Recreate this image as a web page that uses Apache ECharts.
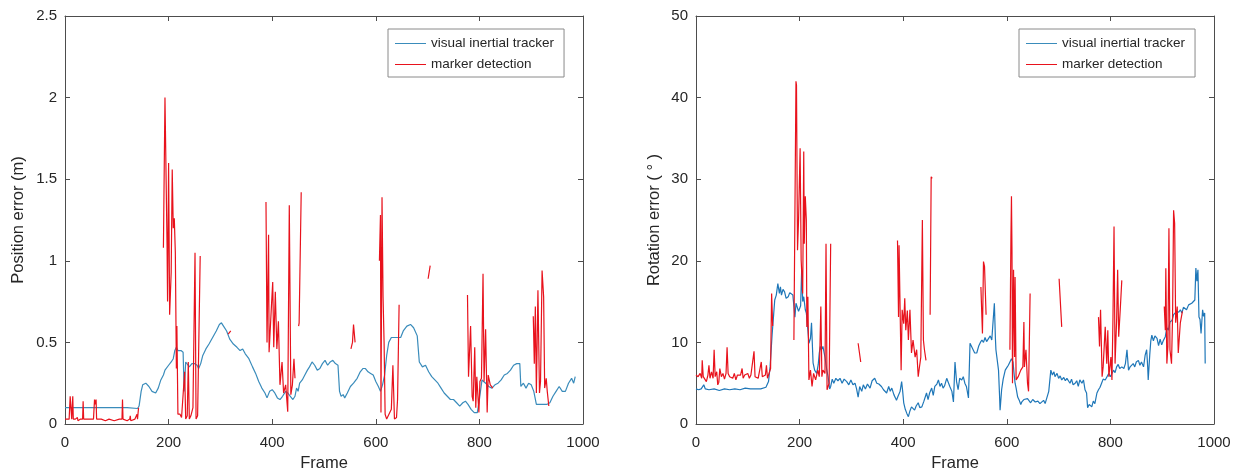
<!DOCTYPE html>
<html>
<head>
<meta charset="utf-8">
<script src="https://cdn.jsdelivr.net/npm/echarts@6/dist/echarts.min.js"></script>
<style>
html,body{margin:0;padding:0;background:#fff;}
#chart{width:1237px;height:474px;}
</style>
</head>
<body>
<div id="chart"></div>
<script>
// ---------- DATA ----------
const seriesNames = ['visual inertial tracker', 'marker detection'];
const xTicks = [0, 200, 400, 600, 800, 1000];
const posTicks = [0, 0.5, 1, 1.5, 2, 2.5];
const rotTicks = [0, 10, 20, 30, 40, 50];

// Position error: visual inertial tracker
const posTrackerFrames = [0,20,40,60,80,100,120,140,143,147,150,156,162,168,175,180,185,190,193,196,200,205,209,212,215,218,224,228,230,233,236,240,245,250,255,258,262,266,272,278,285,292,298,302,306,312,318,325,332,338,343,348,355,362,368,374,380,386,390,395,400,405,410,415,420,426,430,435,440,444,447,450,453,458,463,468,472,477,482,487,492,497,502,507,512,517,522,527,530,533,537,540,545,551,557,564,570,575,580,585,590,595,600,605,609,613,617,621,625,630,640,648,653,660,667,673,680,684,690,696,702,708,714,720,726,732,738,744,750,756,762,768,773,778,784,790,796,800,805,812,818,824,830,836,842,848,854,860,866,872,878,880,885,890,895,900,905,910,920,930,936,942,948,954,960,966,972,978,982,985];
const posTrackerValues = [0.10,0.10,0.10,0.10,0.10,0.10,0.10,0.095,0.11,0.2,0.24,0.25,0.23,0.2,0.19,0.22,0.27,0.3,0.33,0.32,0.36,0.38,0.4,0.45,0.47,0.45,0.45,0.44,0.2,0.38,0.37,0.35,0.37,0.37,0.36,0.34,0.37,0.42,0.46,0.49,0.53,0.57,0.61,0.62,0.6,0.57,0.52,0.49,0.47,0.45,0.46,0.43,0.4,0.35,0.31,0.26,0.22,0.19,0.16,0.2,0.21,0.19,0.16,0.15,0.17,0.2,0.19,0.17,0.15,0.17,0.22,0.2,0.25,0.27,0.3,0.33,0.35,0.38,0.36,0.33,0.34,0.37,0.39,0.36,0.38,0.39,0.37,0.36,0.2,0.17,0.18,0.16,0.19,0.23,0.25,0.28,0.32,0.34,0.34,0.32,0.31,0.3,0.26,0.23,0.2,0.24,0.3,0.42,0.5,0.53,0.53,0.53,0.57,0.6,0.61,0.59,0.54,0.38,0.35,0.36,0.32,0.29,0.27,0.25,0.22,0.19,0.17,0.15,0.15,0.13,0.11,0.13,0.14,0.12,0.09,0.07,0.07,0.15,0.27,0.25,0.23,0.22,0.24,0.25,0.27,0.3,0.31,0.33,0.36,0.37,0.37,0.23,0.25,0.22,0.25,0.24,0.2,0.12,0.12,0.12,0.13,0.17,0.2,0.23,0.2,0.2,0.25,0.28,0.25,0.29];

// Position error: marker detection (null = no detection)
const posMarkerFrames = [0,8,10,12,13,15,16,20,24,25,30,34,35,36,45,55,57,58,60,61,70,78,85,95,105,110,111,112,120,125,126,127,135,138,139,140,142,143,
190,193,195,197,198,200,202,205,207,209,211,213,215,216,218,222,225,227,231,233,236,238,240,243,245,247,251,253,256,258,261,263,
315,320,322,
388,390,393,394,398,401,403,406,409,412,415,419,422,426,430,433,436,439,442,444,446,451,452,456,458,
552,555,557,560,562,
607,609,610,612,614,616,618,621,624,627,630,633,636,640,642,645,647,
701,705,707,
777,779,783,786,788,791,793,795,799,801,804,807,809,812,815,817,821,826,828,
904,906,908,910,913,916,918,921,924,926,929,931,934];
const posMarkerValues = [0.03,0.03,0.17,0.17,0.03,0.17,0.03,0.03,0.04,0.02,0.03,0.03,0.14,0.03,0.03,0.03,0.15,0.12,0.15,0.03,0.03,0.02,0.03,0.02,0.03,0.03,0.15,0.03,0.02,0.03,0.05,0.02,0.03,0.03,0.06,0.03,0.1,null,
1.08,2.0,2.0,1.1,0.75,1.6,0.67,0.93,1.56,1.2,1.26,1.05,0.34,0.6,0.06,0.06,0.04,0.035,0.32,0.03,0.05,0.38,0.03,0.05,0.04,0.1,1.05,0.03,0.05,0.06,1.03,null,
0.55,0.57,null,
1.36,0.5,1.16,0.44,0.69,0.87,0.47,0.81,0.46,0.63,0.24,0.38,0.19,0.24,0.075,1.34,0.18,0.24,0.4,0.28,null,0.6,0.62,1.42,null,
0.46,0.5,0.61,0.5,null,
1.0,1.28,0.07,1.39,0.78,0.5,0.06,0.03,0.05,0.06,0.09,0.36,0.03,0.04,0.15,0.73,null,
0.89,0.97,null,
0.79,0.29,0.6,0.17,0.14,0.47,0.1,0.29,0.07,0.26,0.28,0.92,0.26,0.58,0.07,0.3,0.24,0.22,null,
0.66,0.37,0.72,0.19,0.82,0.19,0.26,0.94,0.78,0.22,0.28,0.2,0.11];

// Rotation error: visual inertial tracker
const rotTrackerFrames = [0,5,10,15,18,25,35,45,55,65,75,85,95,105,115,125,135,140,143,147,150,152,155,158,161,163,165,168,171,174,178,181,184,187,189,191,193,195,198,200,202,204,206,208,211,213,216,218,221,223,226,229,233,236,238,240,242,245,249,252,255,258,260,263,266,270,274,278,282,286,291,295,299,303,307,310,313,316,320,323,327,331,336,340,345,349,353,358,362,365,368,372,375,378,382,385,387,390,394,397,399,401,404,407,410,413,416,419,422,425,429,432,436,440,445,448,451,455,458,461,465,468,471,474,477,480,484,487,490,494,497,500,503,506,509,513,516,519,522,526,529,532,535,538,542,546,549,552,555,558,561,564,568,571,574,576,578,579,581,584,586,587,588,590,593,597,600,603,606,609,612,614,616,618,621,624,627,629,633,636,640,642,646,650,655,660,664,667,671,674,677,681,685,688,691,693,697,700,703,706,710,713,716,719,722,725,728,732,735,738,741,745,748,751,754,756,759,762,764,767,770,774,777,780,783,786,790,793,797,800,803,806,809,812,815,818,822,826,829,832,835,838,841,844,847,850,854,857,860,864,867,870,872,873,876,878,880,883,886,890,893,896,899,902,906,909,912,915,919,922,925,928,932,935,938,941,944,947,951,954,957,960,963,965,967,969,971,973,975,978,980,982,983];
const rotTrackerValues = [4.3,4.2,4.3,4.8,4.3,4.2,4.3,4.1,4.3,4.2,4.3,4.2,4.4,4.3,4.3,4.3,4.5,5.2,7,11,13.5,15.2,15.8,17.2,16,16.8,15.8,16.5,16.2,15.4,15.6,16.1,16,15.8,15.8,13.1,14.8,14.4,13.8,13.6,14.5,18.9,15,15.6,14,13.6,11.5,9.9,10.5,12.4,7.5,6.6,6.2,7.3,8.7,9.5,9.1,9.5,8.2,6.8,5.8,4.3,4.6,5.5,5.0,5.6,5.3,5.6,5.0,5.5,5.2,4.8,5.4,4.8,5.0,4.3,3.3,4.6,4.0,4.8,4.3,4.9,4.4,5.3,5.6,5.0,4.9,4.6,4.2,4.4,3.8,4.6,4.0,4.4,3.6,3.2,2.9,3.4,4.0,5.2,4.0,2.6,1.8,1.3,0.9,1.6,2.1,2.3,1.7,2.2,2.6,2.0,2.1,2.8,3.8,3.0,3.8,4.4,3.5,4.6,4.9,5.4,4.6,5.0,4.4,4.7,5.6,5.4,4.6,4.0,2.7,7.6,5.2,4.2,5.6,5.4,5.8,5.0,4.6,3.2,9.9,9.8,9.1,8.7,8.7,9.6,10.0,10.3,10.0,10.6,10.1,10.3,10.8,10.3,10.5,14.8,10.5,9.1,9.3,6.6,3.5,1.7,2.5,4.2,5.5,6.6,6.9,7.2,7.4,8.0,7.6,6.2,5.0,4.4,3.3,2.9,2.4,2.7,3.0,2.8,3.1,2.9,2.6,3.0,2.7,2.8,2.5,2.6,2.9,2.5,2.7,4.0,6.6,6.0,6.4,5.8,6.2,5.6,5.9,5.4,5.7,5.3,5.6,5.4,5.0,5.5,4.8,5.0,5.3,4.6,5.4,5.0,5.4,4.2,3.8,2.0,2.4,2.2,2.1,2.8,2.5,3.8,4.2,4.5,5.0,5.5,5.4,5.4,6.2,5.8,6.2,6.6,6.3,7.0,7.3,6.8,7.0,6.8,7.4,9.1,6.6,7.0,6.8,7.4,7.0,7.6,7.8,7.2,7.6,7.0,8.4,9.1,7.0,5.4,8.5,10.2,10.9,10.2,10.8,10.5,9.6,10.4,9.7,10.2,10.7,11.8,11.5,12.5,12.7,13.4,13.6,13.8,13.7,14.0,13.6,14.3,14.2,14.0,14.6,14.4,14.8,15.0,15.2,19.1,17.5,18.9,13.1,12.8,11.1,14,13.2,13.6,7.4];

// Rotation error: marker detection (null = no detection)
const rotMarkerFrames = [0,4,8,11,12,14,17,20,23,25,27,30,33,35,37,40,42,44,46,49,52,55,58,60,62,65,68,71,74,77,80,83,86,89,91,94,97,100,103,106,109,112,114,117,120,123,126,128,131,134,136,138,141,144,146,148,149,
189,193,194,196,198,201,203,206,208,209,211,213,214,216,218,221,224,227,231,235,238,241,243,245,249,251,253,257,260,262,
313,318,320,
389,391,392,396,398,401,403,405,408,410,413,416,419,423,426,429,431,434,437,439,441,444,446,452,454,456,458,
550,553,555,557,560,562,
606,608,609,610,611,613,615,616,618,622,627,631,633,634,637,640,642,645,647,
701,706,708,
777,779,781,784,786,790,793,795,797,801,803,805,807,809,812,814,816,819,822,824,
904,906,907,909,911,913,915,918,920,922,924,926,929,931,935,939];
const rotMarkerValues = [6.0,5.8,6.2,5.6,7.8,5.8,6.0,5.2,6.0,7.2,5.6,6.4,5.6,9.1,5.8,6.4,4.8,5.1,6.8,5.8,6.2,5.5,6.2,9.4,6.2,5.8,6.0,5.6,6.2,5.4,6.0,5.8,6.0,6.8,5.6,6.0,5.8,6.2,5.6,6.0,5.8,8.9,5.8,6.0,5.6,5.8,7.6,5.8,5.6,6.0,7.2,5.6,6.2,6.8,16.0,12.0,null,
10.3,42,41.5,21.3,25,33.8,20.1,16,33.4,22.1,27.9,25,11.9,15.6,5.4,6.6,4.6,6.2,5.4,6.6,5.8,14.4,5.8,6.6,6.2,22.1,4.2,5.0,22.1,null,
9.9,7.6,null,
22.5,13.1,21.9,6.6,14,12.3,15.4,11.5,13.9,10.3,14,8.7,10.3,8.2,9.1,5.8,6.8,8.2,25,10.3,9.1,7.8,null,13.4,30.3,30.1,null,
16.8,11.1,19.9,19.3,13.4,null,
9.1,23,27.9,21.3,5.0,18.9,8.2,18.0,5.4,5.8,6.6,7.0,12.5,7.0,9.1,5.0,4.0,16,null,
17.8,11.9,null,
13.1,9.5,14,5.8,7,11.9,7.4,11.5,5.8,8.2,5.4,13.1,24.2,7.4,12.7,18.9,10.7,14,17.6,null,
14.4,11.5,19.1,7.4,9.5,24,9.1,7.4,13.1,26.2,24.6,12.4,14.4,8.7,12.4,13.8];

// ---------- CHART ----------
function pairs(frames, values) {
  return frames.map((f, i) => [f, values[i] === null ? '-' : values[i]]);
}

const FONT = '"Liberation Sans", Arial, Helvetica, sans-serif';
const TXT = '#262626';
const AX = '#4d4d4d';
const BLUE_L = '#3a8cbb';
const BLUE_R = '#1f77b8';
const RED = '#e8121c';

const grids = [
  {left: 65, top: 16, width: 518, height: 408, containLabel: false, outerBoundsMode: 'none'},
  {left: 696, top: 16, width: 518, height: 408, containLabel: false, outerBoundsMode: 'none'}
];

function xAx(g, top) {
  return {
    type: 'value', gridIndex: g, min: xTicks[0], max: xTicks[xTicks.length - 1],
    interval: xTicks[1] - xTicks[0], position: top ? 'top' : 'bottom',
    axisLine: {show: true, onZero: false, lineStyle: {color: AX, width: 1}},
    axisTick: {show: true, inside: true, length: 5, lineStyle: {color: AX}},
    axisLabel: {show: !top, color: TXT, fontSize: 15, fontFamily: FONT, margin: 11,
      formatter: v => String(v)},
    splitLine: {show: false},
    name: top ? '' : 'Frame', nameLocation: 'middle', nameGap: 31,
    nameTextStyle: {color: TXT, fontSize: 16.5, fontFamily: FONT}
  };
}
function yAx(g, right, ticks, name, gap) {
  return {
    type: 'value', gridIndex: g, min: ticks[0], max: ticks[ticks.length - 1],
    interval: ticks[1] - ticks[0], position: right ? 'right' : 'left',
    axisLine: {show: true, onZero: false, lineStyle: {color: AX, width: 1}},
    axisTick: {show: true, inside: true, length: 5, lineStyle: {color: AX}},
    axisLabel: {show: !right, color: TXT, fontSize: 15, fontFamily: FONT, margin: 8},
    splitLine: {show: false},
    name: right ? '' : name, nameLocation: 'middle', nameGap: gap,
    nameTextStyle: {color: TXT, fontSize: 16.5, fontFamily: FONT}
  };
}
function legend(left) {
  return {
    left: left, top: 29, orient: 'vertical',
    data: seriesNames,
    icon: 'rect', itemWidth: 31, itemHeight: 1, itemGap: 6,
    padding: [7, 10, 5, 7],
    backgroundColor: '#fff', borderColor: '#8a8a8a', borderWidth: 1, borderRadius: 0,
    selectedMode: false,
    textStyle: {color: TXT, fontSize: 13.5, fontFamily: FONT, lineHeight: 15}
  };
}
function line(name, xi, yi, data, color) {
  return {
    name: name, type: 'line', xAxisIndex: xi, yAxisIndex: yi, data: data,
    showSymbol: false, symbol: 'none', connectNulls: false,
    lineStyle: {color: color, width: 1.2}, itemStyle: {color: color},
    emphasis: {disabled: true}
  };
}

const chart = echarts.init(document.getElementById('chart'), null, {renderer: 'canvas'});
chart.setOption({
  animation: false,
  backgroundColor: '#ffffff',
  grid: grids,
  xAxis: [xAx(0, false), xAx(0, true), xAx(1, false), xAx(1, true)],
  yAxis: [
    yAx(0, false, posTicks, 'Position error (m)', 38),
    yAx(0, true, posTicks, '', 0),
    yAx(1, false, rotTicks, 'Rotation error ( ° )', 33),
    yAx(1, true, rotTicks, '', 0)
  ],
  legend: [legend(388), legend(1019)],
  series: [
    line(seriesNames[0], 0, 0, pairs(posTrackerFrames, posTrackerValues), BLUE_L),
    line(seriesNames[1], 0, 0, pairs(posMarkerFrames, posMarkerValues), RED),
    line(seriesNames[0], 2, 2, pairs(rotTrackerFrames, rotTrackerValues), BLUE_R),
    line(seriesNames[1], 2, 2, pairs(rotMarkerFrames, rotMarkerValues), RED)
  ]
});
</script>
</body>
</html>
